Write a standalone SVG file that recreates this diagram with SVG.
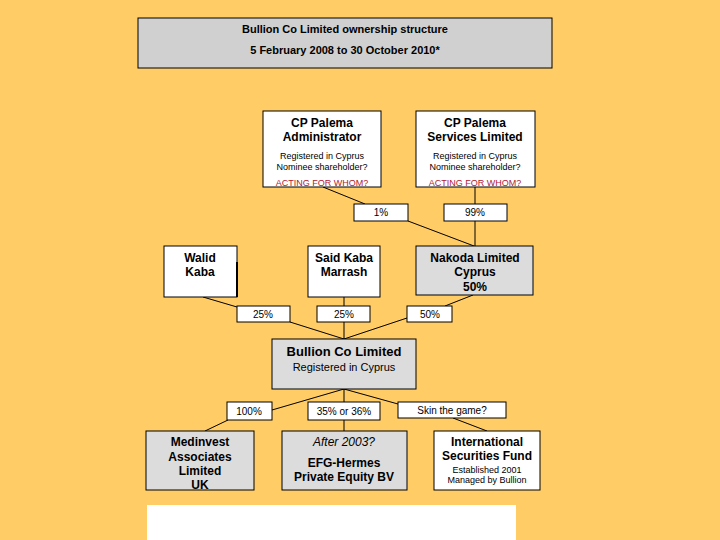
<svg xmlns="http://www.w3.org/2000/svg" width="720" height="540" viewBox="0 0 720 540">
<style>
text{font-family:"Liberation Sans",Arial,sans-serif;fill:#000;text-anchor:middle}
.b{font-weight:bold;font-size:12px}
.s{font-size:9px}
.p{font-size:10px}
.w{fill:#fff;stroke:#000;stroke-width:1}
.g{fill:#dcdcdc;stroke:#000;stroke-width:1}
.c line{stroke:#000;stroke-width:1}
</style>
<rect width="720" height="540" fill="#ffcc66"/>
<g id="title"><rect x="138" y="18" width="414" height="50" fill="#d0d0d0" stroke="#000"/>
<text x="345" y="33" font-size="11" font-weight="bold">Bullion Co Limited ownership structure</text>
<text x="345" y="54" font-size="11" font-weight="bold">5 February 2008 to 30 October 2010*</text></g>
<g class="c" id="connectors">
<line x1="323" y1="187" x2="365" y2="204"/><line x1="408" y1="221" x2="474" y2="246"/>
<line x1="475" y1="187" x2="475" y2="246"/>
<line x1="473" y1="295" x2="445" y2="306"/><line x1="203" y1="297" x2="237" y2="307"/>
<line x1="344" y1="297" x2="344" y2="339"/><line x1="290" y1="322" x2="344" y2="339"/>
<line x1="407" y1="318" x2="344" y2="339"/>
<line x1="344" y1="389" x2="272" y2="410"/><line x1="344" y1="389" x2="344" y2="431"/>
<line x1="344" y1="389" x2="398" y2="404"/>
<line x1="228" y1="420" x2="205" y2="431"/><line x1="453" y1="418" x2="487" y2="431"/>
</g>
<g id="cpadmin"><rect class="w" x="263" y="111" width="118" height="76"/>
<text class="b" x="322" y="127">CP Palema</text><text class="b" x="322" y="141">Administrator</text>
<text class="s" x="322" y="159">Registered in Cyprus</text><text class="s" x="322" y="170">Nominee shareholder?</text>
<text class="s" x="322" y="186" style="fill:#b02030">ACTING FOR WHOM?</text></g>
<g id="cpserv"><rect class="w" x="416" y="111" width="119" height="76"/>
<text class="b" x="475" y="127">CP Palema</text><text class="b" x="475" y="141">Services Limited</text>
<text class="s" x="475" y="159">Registered in Cyprus</text><text class="s" x="475" y="170">Nominee shareholder?</text>
<text class="s" x="475" y="186" style="fill:#b02030">ACTING FOR WHOM?</text></g>
<g id="p1"><rect class="w" x="354" y="204" width="54" height="17"/><text class="p" x="381" y="216">1%</text></g>
<g id="p99"><rect class="w" x="444" y="204" width="63" height="17"/><text class="p" x="475" y="216">99%</text></g>
<g id="walid"><rect class="w" x="164" y="246" width="73" height="51"/><line x1="237" y1="262" x2="237" y2="297" stroke="#000" stroke-width="2"/>
<text class="b" x="200" y="262">Walid</text><text class="b" x="200" y="276">Kaba</text></g>
<g id="said"><rect class="w" x="308" y="246" width="72" height="51"/>
<text class="b" x="344" y="262">Said Kaba</text><text class="b" x="344" y="276">Marrash</text></g>
<g id="nakoda"><rect class="g" x="416" y="246" width="117" height="49"/>
<text class="b" x="475" y="262">Nakoda Limited</text><text class="b" x="475" y="276">Cyprus</text><text class="b" x="475" y="291" font-size="11">50%</text></g>
<g id="p25a"><rect class="w" x="237" y="306" width="53" height="16"/><text class="p" x="263" y="318">25%</text></g>
<g id="p25b"><rect class="w" x="317" y="306" width="53" height="16"/><text class="p" x="344" y="318">25%</text></g>
<g id="p50"><rect class="w" x="407" y="306" width="45" height="16"/><text class="p" x="430" y="318">50%</text></g>
<g id="bullion"><rect class="g" x="272" y="339" width="144" height="50"/>
<text x="344" y="356" font-size="13" font-weight="bold">Bullion Co Limited</text><text x="344" y="371" font-size="11">Registered in Cyprus</text></g>
<g id="p100"><rect class="w" x="227" y="402" width="45" height="18"/><text class="p" x="249" y="415">100%</text></g>
<g id="p35"><rect class="w" x="308" y="402" width="72" height="18"/><text class="p" x="344" y="415">35% or 36%</text></g>
<g id="skin"><rect class="w" x="398" y="402" width="108" height="16"/><text class="p" x="452" y="414">Skin the game?</text></g>
<g id="medinvest"><rect class="g" x="146" y="431" width="108" height="59"/>
<text class="b" x="200" y="446">Medinvest</text><text class="b" x="200" y="461">Associates</text><text class="b" x="200" y="475">Limited</text><text class="b" x="200" y="489">UK</text></g>
<g id="efg"><rect class="g" x="282" y="431" width="125" height="59"/>
<text x="344" y="446" font-size="12" font-style="italic">After 2003?</text>
<text class="b" x="344" y="467">EFG-Hermes</text><text class="b" x="344" y="481">Private Equity BV</text></g>
<g id="isf"><rect class="w" x="434" y="431" width="106" height="59"/>
<text class="b" x="487" y="446">International</text><text class="b" x="487" y="460">Securities Fund</text>
<text class="s" x="487" y="473">Established 2001</text><text class="s" x="487" y="483">Managed by Bullion</text></g>
<rect x="147" y="505" width="369" height="35" fill="#fff"/>
</svg>
